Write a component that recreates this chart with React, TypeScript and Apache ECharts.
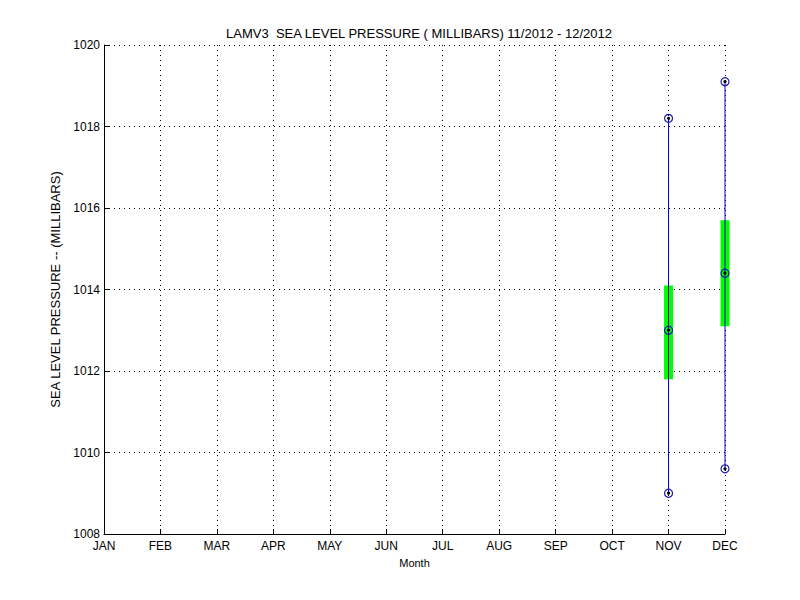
import React, { useEffect, useRef } from "react";
import * as echarts from "echarts";

const monthLabels = ["JAN", "FEB", "MAR", "APR", "MAY", "JUN", "JUL", "AUG", "SEP", "OCT", "NOV", "DEC"];
const dataMonths = [11, 12];
const maxVals = [1018.2, 1019.1];
const minVals = [1009.0, 1009.6];
const meanVals = [1013.0, 1014.4];
const boxHigh = [1014.1, 1015.7];
const boxLow = [1011.8, 1013.1];
const yTicks = [1008, 1010, 1012, 1014, 1016, 1018, 1020];

const FONT = "Liberation Sans, Arial, sans-serif";

export default function App() {
  const ref = useRef<HTMLDivElement>(null);
  useEffect(() => {
    if (!ref.current) return;
    const chart = echarts.init(ref.current, null, { renderer: "svg" });
    const seriesData = dataMonths.map((m, i) => [m, minVals[i], maxVals[i], meanVals[i], boxLow[i], boxHigh[i]]);
    chart.setOption({
      animation: false,
      backgroundColor: "#ffffff",
      title: {
        text: "LAMV3  SEA LEVEL PRESSURE ( MILLIBARS) 11/2012 - 12/2012",
        left: 414,
        top: 22,
        textAlign: "center",
        textStyle: { fontFamily: FONT, fontSize: 13, fontWeight: "normal", color: "#000" },
      },
      grid: { left: 104, right: 75, top: 45, bottom: 66 },
      xAxis: {
        type: "value",
        min: 1,
        max: 12,
        interval: 1,
        name: "Month",
        nameLocation: "middle",
        nameGap: 23,
        nameTextStyle: { fontFamily: FONT, fontSize: 11, color: "#000" },
        axisLine: { show: true, lineStyle: { color: "#000", width: 1 } },
        axisTick: { show: true, inside: true, length: 5, lineStyle: { color: "#000" } },
        axisLabel: {
          fontFamily: FONT,
          fontSize: 12,
          color: "#000",
          margin: 6,
          formatter: (v: number) => monthLabels[Math.round(v) - 1] ?? "",
        },
        splitLine: { show: true, lineStyle: { color: "#000", type: [1, 4], width: 1 } },
      },
      yAxis: {
        type: "value",
        min: yTicks[0],
        max: yTicks[yTicks.length - 1],
        interval: 2,
        name: "SEA LEVEL PRESSURE -- (MILLIBARS)",
        nameLocation: "middle",
        nameGap: 34,
        nameTextStyle: { fontFamily: FONT, fontSize: 13, color: "#000" },
        axisLine: { show: true, lineStyle: { color: "#000", width: 1 } },
        axisTick: { show: true, inside: true, length: 5, lineStyle: { color: "#000" } },
        axisLabel: { fontFamily: FONT, fontSize: 12, color: "#000", margin: 4, formatter: (v: number) => String(v) },
        splitLine: { show: true, lineStyle: { color: "#000", type: [1, 4], width: 1 } },
      },
      series: [
        {
          type: "custom",
          data: seriesData,
          encode: { x: 0, y: [1, 2, 3, 4, 5] },
          clip: false,
          renderItem: (params: any, api: any) => {
            const x = api.value(0);
            const pMin = api.coord([x, api.value(1)]);
            const pMax = api.coord([x, api.value(2)]);
            const pMean = api.coord([x, api.value(3)]);
            const pLow = api.coord([x, api.value(4)]);
            const pHigh = api.coord([x, api.value(5)]);
            const halfW = 4.5;
            const marker = (p: number[]) => [
              { type: "circle", shape: { cx: p[0], cy: p[1], r: 4 }, style: { fill: "none", stroke: "#1a1aa8", lineWidth: 1.2 } },
              { type: "circle", shape: { cx: p[0], cy: p[1], r: 1.6 }, style: { fill: "#000", stroke: null } },
            ];
            return {
              type: "group",
              children: [
                { type: "rect", shape: { x: pHigh[0] - halfW, y: pHigh[1], width: halfW * 2, height: pLow[1] - pHigh[1] }, style: { fill: "#00ff00" } },
                { type: "line", shape: { x1: pMax[0], y1: pMax[1], x2: pMin[0], y2: pMin[1] }, style: { stroke: "#0000cc", lineWidth: 1 } },
                ...marker(pMax),
                ...marker(pMin),
                ...marker(pMean),
              ],
            };
          },
        },
      ],
    });
    return () => chart.dispose();
  }, []);
  return <div ref={ref} style={{ width: 800, height: 600, position: "absolute", left: 0, top: 0 }} />;
}
